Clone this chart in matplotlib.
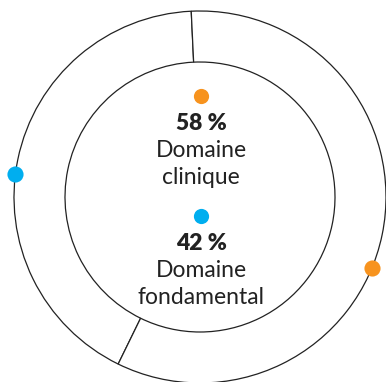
import numpy as np
import matplotlib.pyplot as plt

shares = [42, 58]
labels = ['Domaine\nfondamental', 'Domaine\nclinique']
colors = ['#00AEEF', '#F7931E']
marker_angles = [173.0, 337.7]  # where each dot sits on the outer ring

plt.rcParams['font.family'] = ['Lato', 'DejaVu Sans']

fig = plt.figure(figsize=(3.86, 3.82), dpi=100)
ax = fig.add_axes([0, 0, 1, 1])

cx, cy, r_out, r_in = 200, 185, 186, 135

ax.pie(shares, center=(cx, cy), radius=r_out, startangle=92.7,
       counterclock=True,
       wedgeprops=dict(width=r_out - r_in, facecolor='white',
                       edgecolor='#222222', linewidth=0.9))

for ang, col in zip(marker_angles, colors):
    t = np.deg2rad(ang)
    ax.scatter(cx + r_out * np.cos(t), cy + r_out * np.sin(t), s=135,
               color=col, zorder=5, linewidths=0)

# centre legend: orange block above, blue block below
blocks = [(286, shares[1], labels[1], colors[1]),
          (166, shares[0], labels[0], colors[0])]
for y0, val, lab, col in blocks:
    ax.scatter(cx + 1, y0, s=120, color=col, linewidths=0, zorder=5)
    ax.text(cx + 1, y0 - 28, f'{val} %', ha='center', va='center',
            fontsize=16.5, fontweight='heavy', color='#222222')
    ax.text(cx + 1, y0 - 68, lab, ha='center', va='center',
            fontsize=16.5, color='#222222', linespacing=1.32)

ax.set_xlim(0, 386)
ax.set_ylim(0, 382)
ax.set_aspect('equal')
ax.axis('off')
fig.savefig('out.png', dpi=100)
